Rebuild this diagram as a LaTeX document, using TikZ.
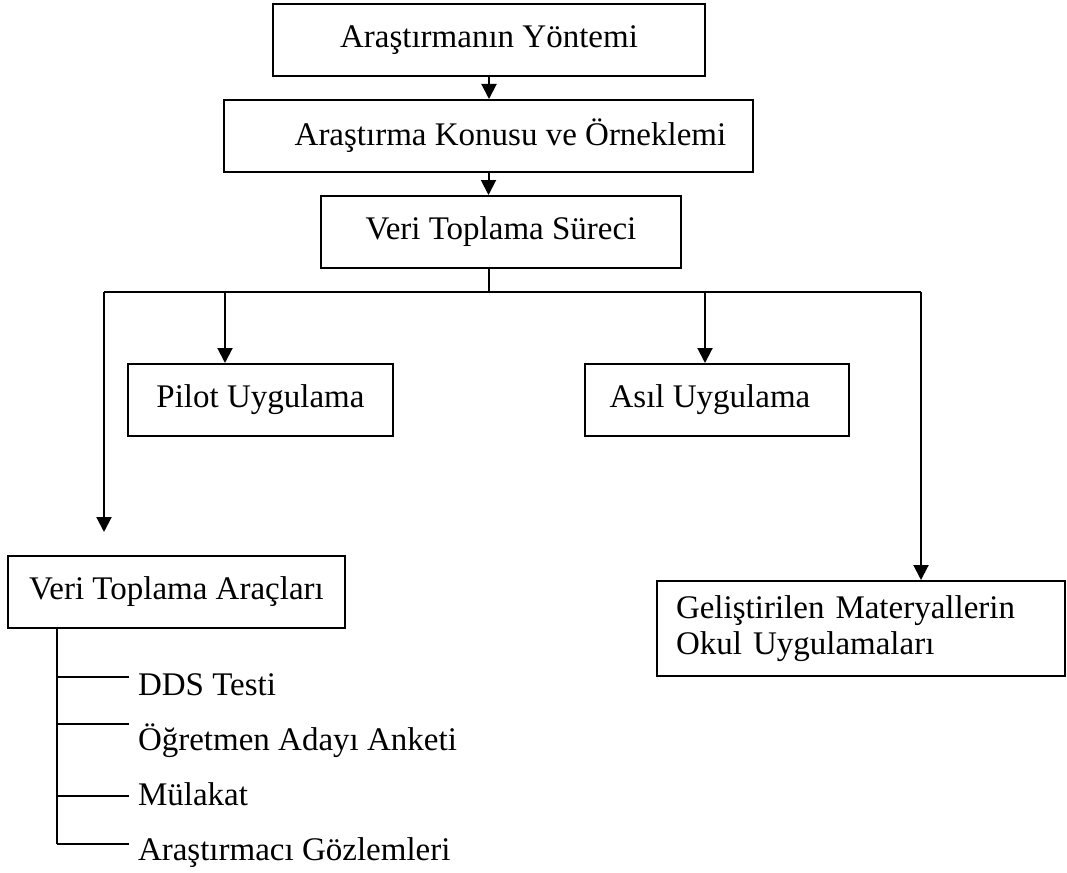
\documentclass[tikz,border=0pt]{standalone}
\usepackage{fontspec}
\setmainfont{Liberation Serif}
\usetikzlibrary{arrows.meta}

\begin{document}
\begin{tikzpicture}[x=1pt, y=-1pt, line width=2pt, >={Triangle[width=15pt,length=15pt]},
        box/.style={rectangle, minimum height=72pt, inner sep=0pt, draw, font=\fontsize{33}{36}\selectfont},
        item/.style={anchor=base west, inner sep=0pt, font=\fontsize{33}{36}\selectfont}]
        \useasboundingbox (0,0) rectangle (1067,872);

        \node[box, minimum width=432pt] (yontem) at (489,40) {Araştırmanın Yöntemi};
        \node[box, minimum width=529pt] (konu) at (488.5,136) {\hspace*{44pt}Araştırma Konusu ve Örneklemi};
        \node[box, minimum width=360pt] (surec) at (501,232) {Veri Toplama Süreci};
        \node[box, minimum width=265pt] (pilot) at (260.5,400) {Pilot Uygulama};
        \node[box, minimum width=264pt] (asil) at (717,400) {\hspace*{-14pt}Asıl Uygulama};
        \node[box, minimum width=337pt] (araclar) at (176.5,592) {Veri Toplama Araçları};
        \node[box, minimum width=408pt, minimum height=95pt, text width=370pt, align=left] (okul) at (861,628.5) {Geliştirilen Materyallerin\\Okul Uygulamaları};

        \coordinate (bus) at (489,292);
        \coordinate (busL) at (104,292);
        \coordinate (busR) at (921,292);
        \coordinate (pilotin) at (225,292);
        \coordinate (asilin) at (705,292);
        \coordinate (araclarin) at (104,532);
        \coordinate (trunk) at (57,844);

        \draw[->] (yontem.south) -- (yontem.south |- konu.north);
        \draw[->] (konu.south) -- (konu.south |- surec.north);
        \draw (surec.south -| bus) -- (bus);
        \draw (busL) -- (busR);
        \draw[->] (pilotin) -- (pilotin |- pilot.north);
        \draw[->] (asilin) -- (asilin |- asil.north);
        \draw[->] (busL) -- (araclarin);
        \draw[->] (busR) -- (busR |- okul.north);

        \draw (araclar.south -| trunk) -- (trunk);
        \foreach \y/\b/\name/\txt in {677/695/dds/DDS Testi, 724/750/anket/Öğretmen Adayı Anketi,
                796/805/mulakat/Mülakat, 844/860/gozlem/Araştırmacı Gözlemleri} {
            \draw (trunk |- 0,\y) -- (129,\y);
            \node[item] (\name) at (137,\b) {\txt};
        }

    \end{tikzpicture}
\end{document}
